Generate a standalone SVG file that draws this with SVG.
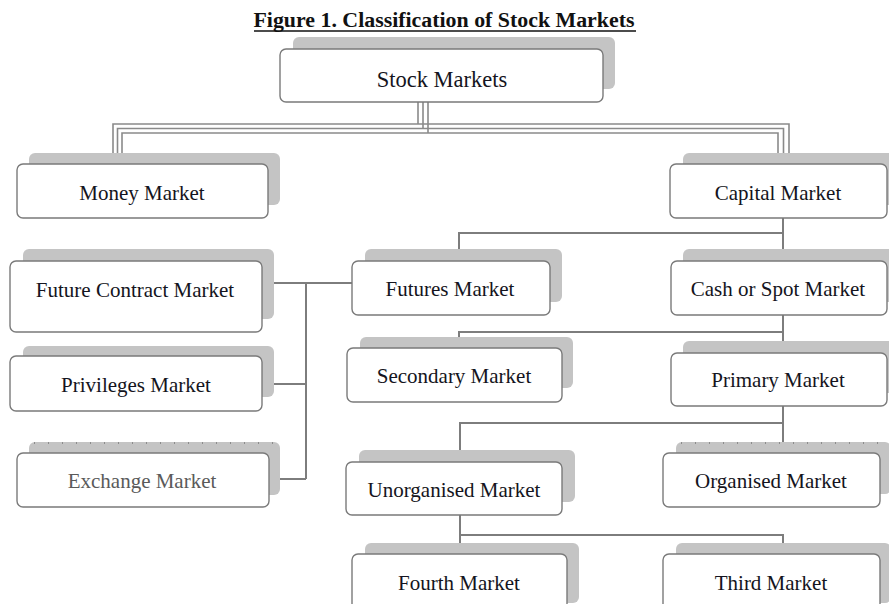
<svg xmlns="http://www.w3.org/2000/svg" width="889" height="604" viewBox="0 0 889 604">
<style>
.sh{fill:#c4c4c4;}
.bx{fill:#fff;stroke:#7a7a7a;stroke-width:1.4;}
.lb{font-family:"Liberation Serif","Times New Roman",serif;font-size:21px;fill:#141420;text-anchor:middle;}
.ln{fill:none;stroke:#7d7d7d;stroke-width:2;}
.tl{fill:none;stroke:#8a8a8a;stroke-width:1.6;}
.tk{fill:none;stroke:#8c8c8c;stroke-width:2;stroke-dasharray:1 13;}
</style>
<rect width="889" height="604" fill="#fff"/>
<text x="444" y="27" font-family="'Liberation Serif','Times New Roman',serif" font-size="20" font-weight="bold" fill="#111" text-anchor="middle" textLength="381" lengthAdjust="spacingAndGlyphs">Figure 1. Classification of Stock Markets</text>
<line x1="254" y1="31" x2="636" y2="31" stroke="#111" stroke-width="1.6"/>

<g id="connectors">
  <path class="tl" d="M418 102V124M423 102V128.5M428 102V133"/>
  <path class="tl" d="M113 153V124H789V153"/>
  <path class="tl" d="M117.5 153V128.5H783.5V153"/>
  <path class="tl" d="M122 153V133H778V153"/>
  <path class="ln" d="M262 283H352M306 283V479M262 384H306M269 479H306"/>
  <path class="ln" d="M783 218V249M459 249V233H783"/>
  <path class="ln" d="M783 315V341M459 337V332H783"/>
  <path class="ln" d="M783 406V442M460 450V423H783"/>
  <path class="ln" d="M460 515V543M460 535H783V543"/>
</g>

<g id="stock-markets">
  <rect class="sh" x="293" y="37" width="322" height="52" rx="6"/>
  <rect class="bx" x="280" y="49" width="323" height="53" rx="6"/>
  <text class="lb" x="442" y="87" style="font-size:22.5px">Stock Markets</text>
</g>
<g id="money-market">
  <rect class="sh" x="29" y="153" width="251" height="52" rx="6"/>
  <rect class="bx" x="17" y="164" width="251" height="54" rx="6"/>
  <text class="lb" x="142" y="200">Money Market</text>
</g>
<g id="capital-market">
  <rect class="sh" x="683" y="153" width="220" height="52" rx="6"/>
  <rect class="bx" x="670" y="164" width="217" height="54" rx="6"/>
  <text class="lb" x="778" y="200">Capital Market</text>
</g>
<g id="future-contract-market">
  <rect class="sh" x="23" y="249" width="251" height="70" rx="6"/>
  <rect class="bx" x="10" y="261" width="252" height="71" rx="6"/>
  <text class="lb" x="135" y="297">Future Contract Market</text>
</g>
<g id="privileges-market">
  <rect class="sh" x="23" y="346" width="251" height="51" rx="6"/>
  <rect class="bx" x="10" y="356" width="252" height="55" rx="6"/>
  <text class="lb" x="136" y="392">Privileges Market</text>
</g>
<g id="exchange-market">
  <rect class="sh" x="29" y="442" width="251" height="53" rx="6"/>
  <line class="tk" x1="34" y1="443" x2="278" y2="443"/>
  <rect class="bx" x="17" y="453" width="252" height="54" rx="6"/>
  <text class="lb" x="142" y="488" style="fill:#5a5a5a">Exchange Market</text>
</g>
<g id="futures-market">
  <rect class="sh" x="365" y="249" width="197" height="53" rx="6"/>
  <rect class="bx" x="352" y="261" width="198" height="54" rx="6"/>
  <text class="lb" x="450" y="296">Futures Market</text>
</g>
<g id="cash-or-spot-market">
  <rect class="sh" x="683" y="249" width="220" height="53" rx="6"/>
  <rect class="bx" x="671" y="261" width="216" height="54" rx="6"/>
  <text class="lb" x="778" y="296">Cash or Spot Market</text>
</g>
<g id="secondary-market">
  <rect class="sh" x="360" y="337" width="213" height="51" rx="6"/>
  <rect class="bx" x="347" y="348" width="215" height="54" rx="6"/>
  <text class="lb" x="454" y="383">Secondary Market</text>
</g>
<g id="primary-market">
  <rect class="sh" x="683" y="341" width="220" height="52" rx="6"/>
  <rect class="bx" x="671" y="353" width="216" height="53" rx="6"/>
  <text class="lb" x="778" y="387">Primary Market</text>
</g>
<g id="unorganised-market">
  <rect class="sh" x="359" y="450" width="216" height="52" rx="6"/>
  <rect class="bx" x="346" y="462" width="216" height="53" rx="6"/>
  <text class="lb" x="454" y="497">Unorganised Market</text>
</g>
<g id="organised-market">
  <rect class="sh" x="676" y="442" width="215" height="52" rx="6"/>
  <line class="tk" x1="681" y1="443" x2="889" y2="443"/>
  <rect class="bx" x="663" y="453" width="217" height="54" rx="6"/>
  <text class="lb" x="771" y="488">Organised Market</text>
</g>
<g id="fourth-market">
  <rect class="sh" x="365" y="543" width="214" height="60" rx="6"/>
  <rect class="bx" x="352" y="554" width="215" height="56" rx="6"/>
  <text class="lb" x="459" y="590">Fourth Market</text>
</g>
<g id="third-market">
  <rect class="sh" x="676" y="543" width="215" height="60" rx="6"/>
  <rect class="bx" x="663" y="554" width="217" height="56" rx="6"/>
  <text class="lb" x="771" y="590">Third Market</text>
</g>
</svg>
